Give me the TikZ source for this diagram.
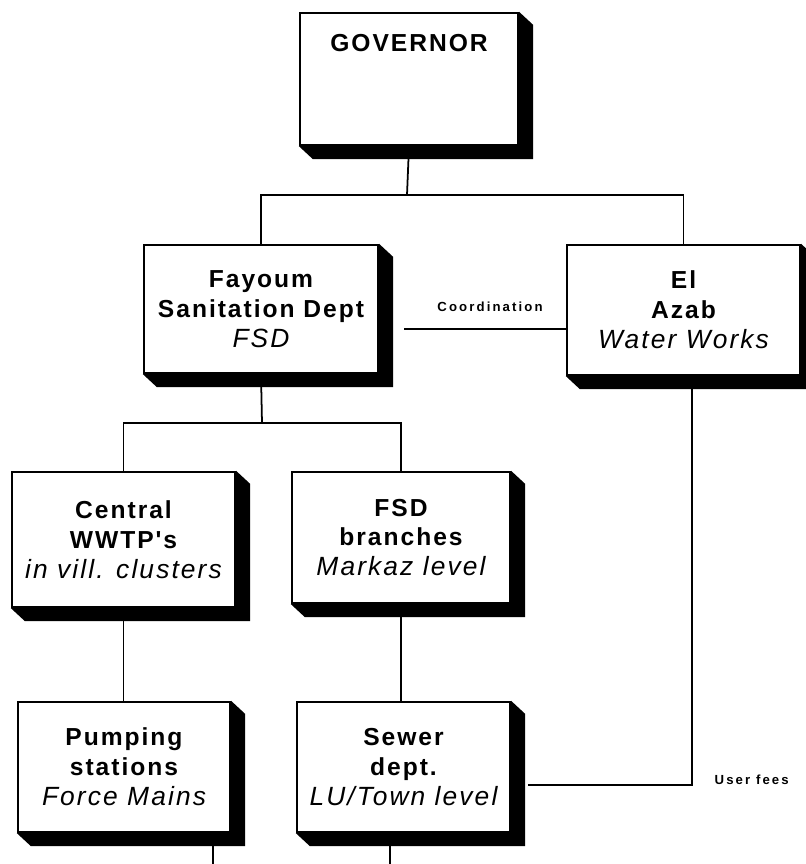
\documentclass[tikz,border=0pt]{standalone}
\usepackage{fontspec}
\newfontfamily\boxfont[LetterSpace=8]{Liberation Sans}
\newfontfamily\tagfont[LetterSpace=16]{Liberation Sans}
\usetikzlibrary{calc}
\newcommand{\lvl}[1]{{\fontsize{15}{17}\selectfont\mdseries\itshape #1}}

\begin{document}
\begin{tikzpicture}[
    unit/.style={draw, line width=1.3pt, fill=white, inner sep=2pt, font=\boxfont\fontsize{14}{17}\selectfont\bfseries, align=center},
    link/.style={line width=1pt},
    tag/.style={font=\tagfont\fontsize{7.5}{9}\selectfont\bfseries, inner sep=1pt}
]
    \useasboundingbox (0,0) rectangle (16.12,-17.28);

    % Top
    \node[unit, minimum width=4.36cm, inner ysep=0.4cm, text height=0.36cm, text depth=1.48cm] (gov) at (8.18,-1.58) {GOVERNOR};

    % Departments
    \node[unit, minimum width=4.68cm, minimum height=2.56cm] (fsd) at (5.22,-6.18) {Fayoum\\Sanitation Dept\\\lvl{FSD}};
    \node[unit, minimum width=4.66cm, minimum height=2.6cm] (azab) at (13.67,-6.2) {El\\Azab\\\lvl{Water Works}};

    % Second level
    \node[unit, minimum width=4.46cm, minimum height=2.7cm] (wwtp) at (2.47,-10.79) {Central\\WWTP's\\\lvl{in vill. clusters}};
    \node[unit, minimum width=4.36cm, minimum height=2.62cm] (branch) at (8.02,-10.75) {FSD\\branches\\\lvl{Markaz level}};

    % Third level
    \node[unit, minimum width=4.24cm, minimum height=2.6cm] (pump) at (2.48,-15.34) {Pumping\\stations\\\lvl{Force Mains}};
    \node[unit, minimum width=4.26cm, minimum height=2.6cm] (sewer) at (8.07,-15.34) {Sewer\\dept.\\\lvl{LU/Town level}};

    % Shadows
    \foreach \n in {gov,fsd,azab,wwtp,branch,pump,sewer}
        \fill (\n.north east) -- ++(0.28,-0.26) -- ($(\n.south east)+(0.28,-0.26)$)
            -- ($(\n.south west)+(0.28,-0.26)$) -- (\n.south west) -- (\n.south east) -- cycle;

    % Junctions
    \coordinate (gj) at (8.14,-3.9);
    \coordinate (fj) at (5.24,-8.46);

    % Hierarchy
    \draw[link] (gov.south) -- (gj);
    \draw[link] (fsd.north) |- (gj) -| (azab.north);
    \draw[link] (fsd.south) -- (fj);
    \draw[link] (wwtp.north) |- (fj) -| (branch.north);
    \draw[link] (wwtp.south) -- (wwtp.south |- pump.north);
    \draw[link] (branch.south) -- (branch.south |- sewer.north);

    % Coordination and fees
    \draw[link] ([xshift=0.5cm,yshift=-0.4cm]fsd.east) -- node[tag, midway, above=0.3cm, xshift=0.1cm] {Coordination} ([yshift=-0.38cm]azab.west);
    \draw[link] ([xshift=0.17cm]azab.south) |- node[tag, pos=0.5, right, xshift=0.4cm, yshift=0.1cm] {User fees} ([xshift=0.34cm,yshift=-0.36cm]sewer.east);

    % Outgoing
    \draw[link] ([xshift=1.78cm]pump.south) -- ++(0,-0.7);
    \draw[link] ([xshift=-0.27cm]sewer.south) -- ++(0,-0.7);
\end{tikzpicture}
\end{document}
